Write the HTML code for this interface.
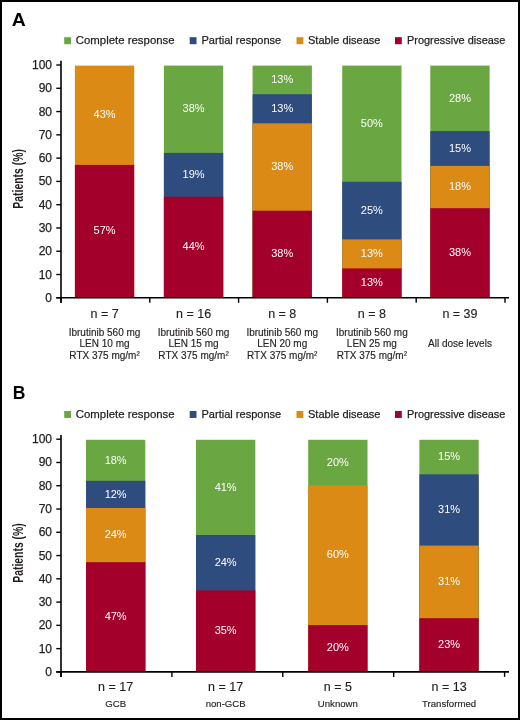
<!DOCTYPE html><html><head><meta charset="utf-8"><style>html,body{margin:0;padding:0;background:#fff}svg{display:block;will-change:transform}text{font-family:"Liberation Sans",sans-serif}.t{stroke:#231f20;stroke-width:0.25px}.u{stroke:#231f20;stroke-width:0.15px}</style></head><body>
<svg width="520" height="720" viewBox="0 0 520 720">
<rect x="0" y="0" width="520" height="720" fill="#fff"/>
<rect x="1" y="1" width="518" height="718" fill="none" stroke="#000" stroke-width="2"/>
<text x="11.8" y="25.6" font-size="18" font-weight="bold" fill="#000" textLength="14" lengthAdjust="spacingAndGlyphs">A</text>
<text x="12.8" y="399.1" font-size="17.5" font-weight="bold" fill="#000">B</text>
<rect x="64.2" y="37.2" width="6.8" height="7" fill="#6aa642"/>
<text x="75.8" y="44.2" font-size="11.6" fill="#231f20" class="t" textLength="98.8" lengthAdjust="spacingAndGlyphs">Complete response</text>
<rect x="189.7" y="37.2" width="6.8" height="7" fill="#2e4c7e"/>
<text x="201.5" y="44.2" font-size="11.6" fill="#231f20" class="t" textLength="79.7" lengthAdjust="spacingAndGlyphs">Partial response</text>
<rect x="296.5" y="37.2" width="6.8" height="7" fill="#db8a15"/>
<text x="308" y="44.2" font-size="11.6" fill="#231f20" class="t" textLength="72.5" lengthAdjust="spacingAndGlyphs">Stable disease</text>
<rect x="395" y="37.2" width="6.8" height="7" fill="#a3002b"/>
<text x="407" y="44.2" font-size="11.6" fill="#231f20" class="t" textLength="98.4" lengthAdjust="spacingAndGlyphs">Progressive disease</text>
<rect x="64.2" y="410.95" width="6.8" height="7" fill="#6aa642"/>
<text x="75.8" y="417.95" font-size="11.6" fill="#231f20" class="t" textLength="98.8" lengthAdjust="spacingAndGlyphs">Complete response</text>
<rect x="189.7" y="410.95" width="6.8" height="7" fill="#2e4c7e"/>
<text x="201.5" y="417.95" font-size="11.6" fill="#231f20" class="t" textLength="79.7" lengthAdjust="spacingAndGlyphs">Partial response</text>
<rect x="296.5" y="410.95" width="6.8" height="7" fill="#db8a15"/>
<text x="308" y="417.95" font-size="11.6" fill="#231f20" class="t" textLength="72.5" lengthAdjust="spacingAndGlyphs">Stable disease</text>
<rect x="395" y="410.95" width="6.8" height="7" fill="#a3002b"/>
<text x="407" y="417.95" font-size="11.6" fill="#231f20" class="t" textLength="98.4" lengthAdjust="spacingAndGlyphs">Progressive disease</text>
<rect x="74.9" y="65.6" width="59.3" height="232" fill="#db8a15"/>
<rect x="74.9" y="164.9" width="59.3" height="132.7" fill="#a3002b"/>
<text x="104.55" y="118.45" font-size="11" text-anchor="middle" fill="#fff">43%</text>
<text x="104.55" y="234.25" font-size="11" text-anchor="middle" fill="#fff">57%</text>
<rect x="163.9" y="65.6" width="59.3" height="232" fill="#6aa642"/>
<rect x="163.9" y="152.9" width="59.3" height="144.7" fill="#2e4c7e"/>
<rect x="163.9" y="196.7" width="59.3" height="100.9" fill="#a3002b"/>
<text x="193.55" y="112.45" font-size="11" text-anchor="middle" fill="#fff">38%</text>
<text x="193.55" y="178" font-size="11" text-anchor="middle" fill="#fff">19%</text>
<text x="193.55" y="250.15" font-size="11" text-anchor="middle" fill="#fff">44%</text>
<rect x="252.6" y="65.6" width="59.3" height="232" fill="#6aa642"/>
<rect x="252.6" y="94.2" width="59.3" height="203.4" fill="#2e4c7e"/>
<rect x="252.6" y="123.3" width="59.3" height="174.3" fill="#db8a15"/>
<rect x="252.6" y="210.7" width="59.3" height="86.9" fill="#a3002b"/>
<text x="282.25" y="83.1" font-size="11" text-anchor="middle" fill="#fff">13%</text>
<text x="282.25" y="111.95" font-size="11" text-anchor="middle" fill="#fff">13%</text>
<text x="282.25" y="170.2" font-size="11" text-anchor="middle" fill="#fff">38%</text>
<text x="282.25" y="257.15" font-size="11" text-anchor="middle" fill="#fff">38%</text>
<rect x="342.2" y="65.6" width="59.3" height="232" fill="#6aa642"/>
<rect x="342.2" y="181.8" width="59.3" height="115.8" fill="#2e4c7e"/>
<rect x="342.2" y="239.4" width="59.3" height="58.2" fill="#db8a15"/>
<rect x="342.2" y="268.4" width="59.3" height="29.2" fill="#a3002b"/>
<text x="371.85" y="126.9" font-size="11" text-anchor="middle" fill="#fff">50%</text>
<text x="371.85" y="213.8" font-size="11" text-anchor="middle" fill="#fff">25%</text>
<text x="371.85" y="257.1" font-size="11" text-anchor="middle" fill="#fff">13%</text>
<text x="371.85" y="286" font-size="11" text-anchor="middle" fill="#fff">13%</text>
<rect x="430.3" y="65.6" width="59.3" height="232" fill="#6aa642"/>
<rect x="430.3" y="131.1" width="59.3" height="166.5" fill="#2e4c7e"/>
<rect x="430.3" y="165.9" width="59.3" height="131.7" fill="#db8a15"/>
<rect x="430.3" y="208.2" width="59.3" height="89.4" fill="#a3002b"/>
<text x="459.95" y="101.55" font-size="11" text-anchor="middle" fill="#fff">28%</text>
<text x="459.95" y="151.7" font-size="11" text-anchor="middle" fill="#fff">15%</text>
<text x="459.95" y="190.25" font-size="11" text-anchor="middle" fill="#fff">18%</text>
<text x="459.95" y="255.9" font-size="11" text-anchor="middle" fill="#fff">38%</text>
<line x1="61" y1="60.7" x2="61" y2="302.8" stroke="#000" stroke-width="1.6"/>
<line x1="56.3" y1="297.8" x2="509" y2="297.8" stroke="#000" stroke-width="1.6"/>
<line x1="56.3" y1="297.8" x2="61" y2="297.8" stroke="#000" stroke-width="1.4"/>
<text x="52" y="301.8" font-size="12" text-anchor="end" fill="#231f20" class="t">0</text>
<line x1="56.3" y1="274.52" x2="61" y2="274.52" stroke="#000" stroke-width="1.4"/>
<text x="52" y="278.52" font-size="12" text-anchor="end" fill="#231f20" class="t">10</text>
<line x1="56.3" y1="251.24" x2="61" y2="251.24" stroke="#000" stroke-width="1.4"/>
<text x="52" y="255.24" font-size="12" text-anchor="end" fill="#231f20" class="t">20</text>
<line x1="56.3" y1="227.96" x2="61" y2="227.96" stroke="#000" stroke-width="1.4"/>
<text x="52" y="231.96" font-size="12" text-anchor="end" fill="#231f20" class="t">30</text>
<line x1="56.3" y1="204.68" x2="61" y2="204.68" stroke="#000" stroke-width="1.4"/>
<text x="52" y="208.68" font-size="12" text-anchor="end" fill="#231f20" class="t">40</text>
<line x1="56.3" y1="181.4" x2="61" y2="181.4" stroke="#000" stroke-width="1.4"/>
<text x="52" y="185.4" font-size="12" text-anchor="end" fill="#231f20" class="t">50</text>
<line x1="56.3" y1="158.12" x2="61" y2="158.12" stroke="#000" stroke-width="1.4"/>
<text x="52" y="162.12" font-size="12" text-anchor="end" fill="#231f20" class="t">60</text>
<line x1="56.3" y1="134.84" x2="61" y2="134.84" stroke="#000" stroke-width="1.4"/>
<text x="52" y="138.84" font-size="12" text-anchor="end" fill="#231f20" class="t">70</text>
<line x1="56.3" y1="111.56" x2="61" y2="111.56" stroke="#000" stroke-width="1.4"/>
<text x="52" y="115.56" font-size="12" text-anchor="end" fill="#231f20" class="t">80</text>
<line x1="56.3" y1="88.28" x2="61" y2="88.28" stroke="#000" stroke-width="1.4"/>
<text x="52" y="92.28" font-size="12" text-anchor="end" fill="#231f20" class="t">90</text>
<line x1="56.3" y1="65" x2="61" y2="65" stroke="#000" stroke-width="1.4"/>
<text x="52" y="69" font-size="12" text-anchor="end" fill="#231f20" class="t">100</text>
<line x1="61" y1="297.8" x2="61" y2="302.8" stroke="#000" stroke-width="1.4"/>
<line x1="149.8" y1="297.8" x2="149.8" y2="302.8" stroke="#000" stroke-width="1.4"/>
<line x1="238.6" y1="297.8" x2="238.6" y2="302.8" stroke="#000" stroke-width="1.4"/>
<line x1="327.4" y1="297.8" x2="327.4" y2="302.8" stroke="#000" stroke-width="1.4"/>
<line x1="416.2" y1="297.8" x2="416.2" y2="302.8" stroke="#000" stroke-width="1.4"/>
<line x1="505" y1="297.8" x2="505" y2="302.8" stroke="#000" stroke-width="1.4"/>
<text transform="translate(22.9 178.9) rotate(-90)" font-size="13.8" font-weight="bold" text-anchor="middle" fill="#231f20" textLength="59.6" lengthAdjust="spacingAndGlyphs">Patients (%)</text>
<text x="104.55" y="317.8" font-size="12.5" text-anchor="middle" fill="#231f20" class="u">n = 7</text>
<text x="104.55" y="336" font-size="10" text-anchor="middle" fill="#231f20" class="u">Ibrutinib 560 mg</text>
<text x="104.55" y="347.3" font-size="10" text-anchor="middle" fill="#231f20" class="u">LEN 10 mg</text>
<text x="104.55" y="358.6" font-size="10" text-anchor="middle" fill="#231f20" class="u">RTX 375 mg/m<tspan dy="-0.8">²</tspan></text>
<text x="193.55" y="317.8" font-size="12.5" text-anchor="middle" fill="#231f20" class="u">n = 16</text>
<text x="193.55" y="336" font-size="10" text-anchor="middle" fill="#231f20" class="u">Ibrutinib 560 mg</text>
<text x="193.55" y="347.3" font-size="10" text-anchor="middle" fill="#231f20" class="u">LEN 15 mg</text>
<text x="193.55" y="358.6" font-size="10" text-anchor="middle" fill="#231f20" class="u">RTX 375 mg/m<tspan dy="-0.8">²</tspan></text>
<text x="282.25" y="317.8" font-size="12.5" text-anchor="middle" fill="#231f20" class="u">n = 8</text>
<text x="282.25" y="336" font-size="10" text-anchor="middle" fill="#231f20" class="u">Ibrutinib 560 mg</text>
<text x="282.25" y="347.3" font-size="10" text-anchor="middle" fill="#231f20" class="u">LEN 20 mg</text>
<text x="282.25" y="358.6" font-size="10" text-anchor="middle" fill="#231f20" class="u">RTX 375 mg/m<tspan dy="-0.8">²</tspan></text>
<text x="371.85" y="317.8" font-size="12.5" text-anchor="middle" fill="#231f20" class="u">n = 8</text>
<text x="371.85" y="336" font-size="10" text-anchor="middle" fill="#231f20" class="u">Ibrutinib 560 mg</text>
<text x="371.85" y="347.3" font-size="10" text-anchor="middle" fill="#231f20" class="u">LEN 25 mg</text>
<text x="371.85" y="358.6" font-size="10" text-anchor="middle" fill="#231f20" class="u">RTX 375 mg/m<tspan dy="-0.8">²</tspan></text>
<text x="459.95" y="317.8" font-size="12.5" text-anchor="middle" fill="#231f20" class="u">n = 39</text>
<text x="459.95" y="347.3" font-size="10" text-anchor="middle" fill="#231f20" class="u">All dose levels</text>
<rect x="86" y="439.8" width="59.3" height="231.8" fill="#6aa642"/>
<rect x="86" y="480.8" width="59.3" height="190.8" fill="#2e4c7e"/>
<rect x="86" y="508" width="59.3" height="163.6" fill="#db8a15"/>
<rect x="86" y="562.2" width="59.3" height="109.4" fill="#a3002b"/>
<text x="115.65" y="463.5" font-size="11" text-anchor="middle" fill="#fff">18%</text>
<text x="115.65" y="497.6" font-size="11" text-anchor="middle" fill="#fff">12%</text>
<text x="115.65" y="538.3" font-size="11" text-anchor="middle" fill="#fff">24%</text>
<text x="115.65" y="619.9" font-size="11" text-anchor="middle" fill="#fff">47%</text>
<rect x="196" y="439.8" width="59.3" height="231.8" fill="#6aa642"/>
<rect x="196" y="535" width="59.3" height="136.6" fill="#2e4c7e"/>
<rect x="196" y="590.4" width="59.3" height="81.2" fill="#a3002b"/>
<text x="225.65" y="490.6" font-size="11" text-anchor="middle" fill="#fff">41%</text>
<text x="225.65" y="565.9" font-size="11" text-anchor="middle" fill="#fff">24%</text>
<text x="225.65" y="634" font-size="11" text-anchor="middle" fill="#fff">35%</text>
<rect x="308.2" y="439.8" width="59.3" height="231.8" fill="#6aa642"/>
<rect x="308.2" y="485.4" width="59.3" height="186.2" fill="#db8a15"/>
<rect x="308.2" y="625.1" width="59.3" height="46.5" fill="#a3002b"/>
<text x="337.85" y="465.8" font-size="11" text-anchor="middle" fill="#fff">20%</text>
<text x="337.85" y="558.45" font-size="11" text-anchor="middle" fill="#fff">60%</text>
<text x="337.85" y="651.35" font-size="11" text-anchor="middle" fill="#fff">20%</text>
<rect x="419.4" y="439.8" width="59.3" height="231.8" fill="#6aa642"/>
<rect x="419.4" y="474.3" width="59.3" height="197.3" fill="#2e4c7e"/>
<rect x="419.4" y="545.6" width="59.3" height="126" fill="#db8a15"/>
<rect x="419.4" y="618.2" width="59.3" height="53.4" fill="#a3002b"/>
<text x="449.05" y="460.25" font-size="11" text-anchor="middle" fill="#fff">15%</text>
<text x="449.05" y="513.15" font-size="11" text-anchor="middle" fill="#fff">31%</text>
<text x="449.05" y="585.1" font-size="11" text-anchor="middle" fill="#fff">31%</text>
<text x="449.05" y="647.9" font-size="11" text-anchor="middle" fill="#fff">23%</text>
<line x1="61" y1="434.9" x2="61" y2="676.9" stroke="#000" stroke-width="1.6"/>
<line x1="56.3" y1="671.9" x2="509" y2="671.9" stroke="#000" stroke-width="1.6"/>
<line x1="56.3" y1="671.9" x2="61" y2="671.9" stroke="#000" stroke-width="1.4"/>
<text x="52" y="675.9" font-size="12" text-anchor="end" fill="#231f20" class="t">0</text>
<line x1="56.3" y1="648.63" x2="61" y2="648.63" stroke="#000" stroke-width="1.4"/>
<text x="52" y="652.63" font-size="12" text-anchor="end" fill="#231f20" class="t">10</text>
<line x1="56.3" y1="625.36" x2="61" y2="625.36" stroke="#000" stroke-width="1.4"/>
<text x="52" y="629.36" font-size="12" text-anchor="end" fill="#231f20" class="t">20</text>
<line x1="56.3" y1="602.09" x2="61" y2="602.09" stroke="#000" stroke-width="1.4"/>
<text x="52" y="606.09" font-size="12" text-anchor="end" fill="#231f20" class="t">30</text>
<line x1="56.3" y1="578.82" x2="61" y2="578.82" stroke="#000" stroke-width="1.4"/>
<text x="52" y="582.82" font-size="12" text-anchor="end" fill="#231f20" class="t">40</text>
<line x1="56.3" y1="555.55" x2="61" y2="555.55" stroke="#000" stroke-width="1.4"/>
<text x="52" y="559.55" font-size="12" text-anchor="end" fill="#231f20" class="t">50</text>
<line x1="56.3" y1="532.28" x2="61" y2="532.28" stroke="#000" stroke-width="1.4"/>
<text x="52" y="536.28" font-size="12" text-anchor="end" fill="#231f20" class="t">60</text>
<line x1="56.3" y1="509.01" x2="61" y2="509.01" stroke="#000" stroke-width="1.4"/>
<text x="52" y="513.01" font-size="12" text-anchor="end" fill="#231f20" class="t">70</text>
<line x1="56.3" y1="485.74" x2="61" y2="485.74" stroke="#000" stroke-width="1.4"/>
<text x="52" y="489.74" font-size="12" text-anchor="end" fill="#231f20" class="t">80</text>
<line x1="56.3" y1="462.47" x2="61" y2="462.47" stroke="#000" stroke-width="1.4"/>
<text x="52" y="466.47" font-size="12" text-anchor="end" fill="#231f20" class="t">90</text>
<line x1="56.3" y1="439.2" x2="61" y2="439.2" stroke="#000" stroke-width="1.4"/>
<text x="52" y="443.2" font-size="12" text-anchor="end" fill="#231f20" class="t">100</text>
<line x1="61" y1="671.9" x2="61" y2="676.9" stroke="#000" stroke-width="1.4"/>
<line x1="171.9" y1="671.9" x2="171.9" y2="676.9" stroke="#000" stroke-width="1.4"/>
<line x1="282.8" y1="671.9" x2="282.8" y2="676.9" stroke="#000" stroke-width="1.4"/>
<line x1="393.7" y1="671.9" x2="393.7" y2="676.9" stroke="#000" stroke-width="1.4"/>
<line x1="504.6" y1="671.9" x2="504.6" y2="676.9" stroke="#000" stroke-width="1.4"/>
<text transform="translate(22.9 553) rotate(-90)" font-size="13.8" font-weight="bold" text-anchor="middle" fill="#231f20" textLength="59.6" lengthAdjust="spacingAndGlyphs">Patients (%)</text>
<text x="115.65" y="690.7" font-size="12.5" text-anchor="middle" fill="#231f20" class="u">n = 17</text>
<text x="115.65" y="706.9" font-size="9.6" text-anchor="middle" fill="#231f20" class="u">GCB</text>
<text x="225.65" y="690.7" font-size="12.5" text-anchor="middle" fill="#231f20" class="u">n = 17</text>
<text x="225.65" y="706.9" font-size="9.6" text-anchor="middle" fill="#231f20" class="u">non-GCB</text>
<text x="337.85" y="690.7" font-size="12.5" text-anchor="middle" fill="#231f20" class="u">n = 5</text>
<text x="337.85" y="706.9" font-size="9.6" text-anchor="middle" fill="#231f20" class="u">Unknown</text>
<text x="449.05" y="690.7" font-size="12.5" text-anchor="middle" fill="#231f20" class="u">n = 13</text>
<text x="449.05" y="706.9" font-size="9.6" text-anchor="middle" fill="#231f20" class="u">Transformed</text>
</svg></body></html>
